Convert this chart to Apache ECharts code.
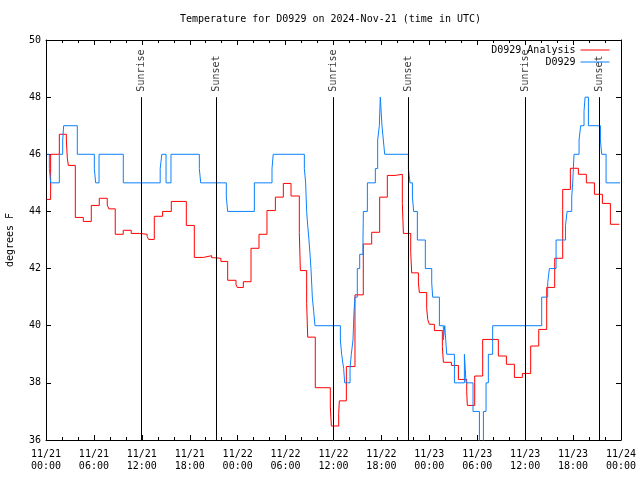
<!DOCTYPE html>
<html><head><meta charset="utf-8">
<script src="https://cdn.jsdelivr.net/npm/echarts@6/dist/echarts.min.js"></script>
<style>html,body{margin:0;padding:0;background:#fff}#c{width:640px;height:480px}</style>
</head><body><div id="c"></div>
<script>
// hours since 2024-11-21 00:00 UTC
const analysisHours = [0.08,0.58,1.67,2.55,2.67,2.8,3.67,4.67,5.67,6.67,7.67,7.87,8.67,9.67,10.67,11.67,12.67,12.85,13.56,14.6,15.69,17.57,18.57,19.7,20.74,21.0,21.9,22.75,23.79,23.95,24.71,25.67,26.67,27.67,28.72,29.72,30.68,31.72,31.85,32.64,32.77,33.72,35.6,35.73,36.65,36.73,37.61,38.69,39.73,40.78,41.78,42.74,43.71,44.62,44.75,45.67,45.79,46.63,46.75,47.67,47.8,48.0,48.63,49.63,49.76,50.76,51.64,52.68,52.76,53.68,54.68,56.64,57.65,58.65,59.65,60.69,61.7,62.7,63.7,64.7,65.66,66.66,67.66,68.67,69.67,70.67,71.8];
const analysisTemps = [44.42,46.0,46.7,46.5,45.86,45.61,43.79,43.65,44.21,44.46,44.23,44.09,43.2,43.34,43.23,43.2,43.12,43.02,43.83,44.0,44.35,43.51,42.39,42.45,42.38,42.36,42.25,41.59,41.45,41.34,41.54,42.71,43.2,44.03,44.5,44.98,44.54,43.26,41.93,40.78,39.6,37.83,37.19,36.49,36.93,37.37,38.57,41.08,42.86,43.27,44.5,45.26,45.3,44.28,43.23,42.57,41.85,41.5,41.16,40.6,40.22,40.05,39.83,39.27,38.72,38.61,38.12,37.69,37.21,38.24,39.52,38.94,38.65,38.19,38.33,39.29,39.87,41.34,42.36,44.77,45.51,45.3,45.0,44.6,44.28,43.55,43.55];
const obsHours = [0.08,0.42,0.58,1.67,2.09,2.21,3.92,6.05,6.22,6.64,9.68,14.3,14.5,15.03,15.65,19.2,19.37,22.58,22.75,26.09,28.3,28.45,32.35,32.51,32.64,32.77,32.93,33.06,33.18,33.35,33.52,33.68,36.86,37.02,37.27,37.4,38.07,38.23,38.44,38.57,38.69,38.98,39.28,39.69,39.74,40.24,41.24,41.53,41.74,41.86,42.07,42.24,42.41,45.38,45.58,45.88,46.04,46.5,47.5,48.3,48.42,49.26,49.76,49.93,50.18,51.14,52.39,52.6,53.47,54.27,54.77,55.1,55.39,55.93,62.07,62.82,63.03,63.87,65.05,65.25,65.83,65.95,66.12,66.75,66.95,67.37,67.5,67.92,69.42,69.58,70.13,71.88];
const obsTemps = [46,45.5,45,46,46.5,47,46,45.5,45,46,45,45.5,46,45,46,45.5,45,44.5,44,45,45.5,46,45.5,45,44,43.5,43,42.5,42,41,40.5,40,39.5,39,38.5,38,38.5,39,39.5,40.5,41,42,42.5,43,44,45,45.5,46.5,47,48,47,46.5,46,45.5,45,44.5,44,43,42,41.5,41,40,39.5,40,39,38,39,38,37,35,37,38,39,40,41,41.5,42,43,43.5,44,44.5,45,46,46.5,47,47.5,48,47,46.5,46,45,45];
const sunriseHours = [11.98, 35.98, 60.0];
const sunsetHours = [21.33, 45.37, 69.33];
const xTickLabels = ['11/21\n00:00','11/21\n06:00','11/21\n12:00','11/21\n18:00','11/22\n00:00','11/22\n06:00','11/22\n12:00','11/22\n18:00','11/23\n00:00','11/23\n06:00','11/23\n12:00','11/23\n18:00','11/24\n00:00'];
const seriesNames = ['D0929 Analysis', 'D0929'];
const titleText = 'Temperature for D0929 on 2024-Nov-21 (time in UTC)';

const FONT = 'DejaVu Sans Mono';
const txt = {fontFamily: FONT, fontSize: 10, color: '#000'};
const sunEvents = sunriseHours.map(t => [t, 48, 'Sunrise']).concat(sunsetHours.map(t => [t, 48, 'Sunset']));

function xAxis(pos, labels) {
  return {
    type: 'value', min: 0, max: 72, interval: 6, position: pos,
    axisLine: {show: true, onZero: false, lineStyle: {color: '#000', width: 1}},
    axisTick: {show: true, inside: true, length: 5, lineStyle: {color: '#000', width: 1}},
    minorTick: {show: true, splitNumber: 3, length: 3, lineStyle: {color: '#000', width: 1}},
    splitLine: {show: false},
    axisLabel: Object.assign({show: labels, margin: 8, lineHeight: 12,
      formatter: v => xTickLabels[Math.round(v / 6)]}, txt)
  };
}
function yAxis(pos, labels) {
  const a = {
    type: 'value', min: 36, max: 50, interval: 2, position: pos,
    axisLine: {show: true, onZero: false, lineStyle: {color: '#000', width: 1}},
    axisTick: {show: true, inside: true, length: 5, lineStyle: {color: '#000', width: 1}},
    splitLine: {show: false},
    axisLabel: Object.assign({show: labels, margin: 5}, txt)
  };
  if (labels) {
    a.name = 'degrees F'; a.nameLocation = 'middle'; a.nameGap = 31; a.nameRotate = 90;
    a.nameTextStyle = txt;
  }
  return a;
}
function legend(name, top) {
  return {data: [name], right: 30, top: top, orient: 'vertical', align: 'right',
    itemWidth: 29, itemHeight: 12, padding: 0, selectedMode: false, textStyle: txt,
    itemStyle: {opacity: 0}, lineStyle: {width: 1}};
}

const chart = echarts.init(document.getElementById('c'), null, {renderer: 'canvas'});
chart.setOption({
  animation: false,
  backgroundColor: '#fff',
  title: {text: titleText, left: 180, top: 14, padding: 0,
    textStyle: {fontFamily: FONT, fontSize: 10, fontWeight: 'normal', color: '#000'}},
  legend: [legend(seriesNames[0], 45), legend(seriesNames[1], 57)],
  grid: {left: 46, right: 19, top: 40, bottom: 40, containLabel: false, outerBoundsMode: 'none'},
  xAxis: [xAxis('bottom', true), xAxis('top', false)],
  yAxis: [yAxis('left', true), yAxis('right', false)],
  series: [
    {name: seriesNames[0], type: 'line', step: 'end', symbol: 'none', showSymbol: false,
      data: analysisHours.map((h, i) => [h, analysisTemps[i]]),
      color: '#ff0000', lineStyle: {color: '#ff0000', width: 1}},
    {name: seriesNames[1], type: 'line', step: 'end', symbol: 'none', showSymbol: false,
      data: obsHours.map((h, i) => [h, obsTemps[i]]),
      color: '#0a80ff', lineStyle: {color: '#0a80ff', width: 1}},
    {name: 'sun', type: 'scatter', symbol: 'rect', symbolSize: 1, silent: true,
      itemStyle: {color: 'rgba(0,0,0,0)'},
      data: sunEvents,
      label: Object.assign({show: true, position: 'top', distance: 5, rotate: 90,
        align: 'left', verticalAlign: 'middle', formatter: p => p.value[2]}, txt),
      markLine: {silent: true, symbol: ['none', 'none'], label: {show: false},
        lineStyle: {color: '#000', width: 1, type: 'solid'},
        data: sunEvents.map(e => [{coord: [e[0], 36]}, {coord: [e[0], 48]}])}}
  ]
});
</script></body></html>
